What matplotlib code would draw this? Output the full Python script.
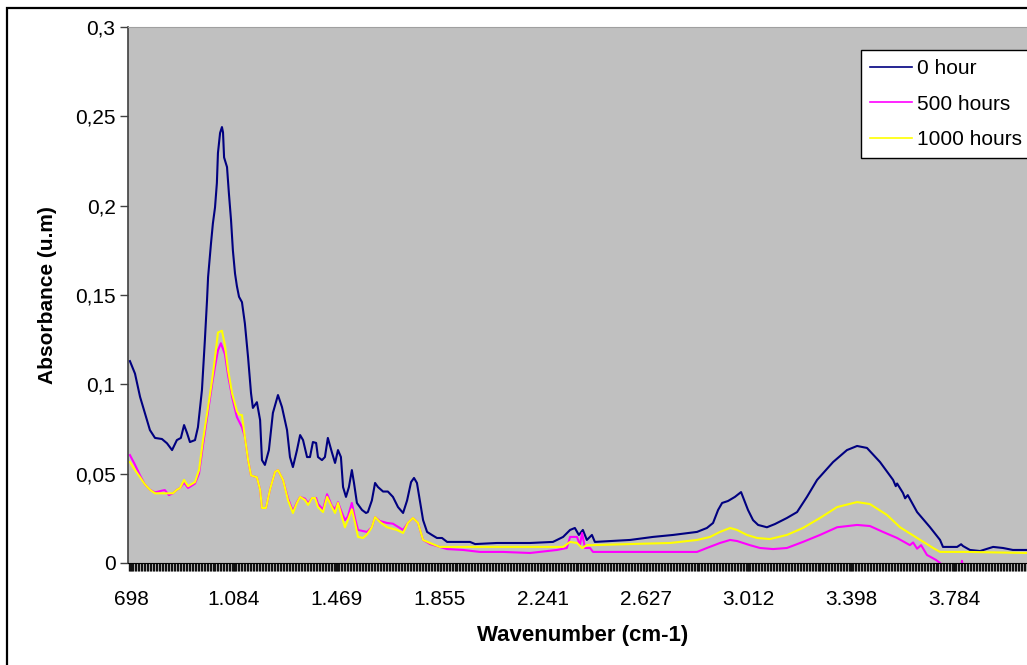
import numpy as np
import matplotlib
matplotlib.use('Agg')
import matplotlib.pyplot as plt
from matplotlib.patches import Rectangle

plt.rcParams['font.family'] = ['Liberation Sans', 'DejaVu Sans']

# 0 hour
w_0h = [694, 713, 732, 750, 769, 788, 814, 833, 852, 870, 885, 897, 908, 919, 938, 949, 964, 975, 983, 987,
        998, 1005, 1013, 1020, 1024, 1032, 1039, 1043, 1047, 1058, 1065, 1073, 1080, 1088, 1095, 1103, 1114,
        1125, 1137, 1148, 1155, 1170, 1182, 1189, 1200, 1215, 1230, 1249, 1264, 1283, 1294, 1305, 1320, 1332,
        1343, 1358, 1369, 1380, 1392, 1399, 1414, 1425, 1436, 1451, 1463, 1474, 1485, 1493, 1504, 1515, 1526,
        1534, 1545, 1564, 1579, 1586, 1601, 1613, 1624, 1643, 1661, 1680, 1699, 1718, 1733, 1748, 1759, 1770,
        1781, 1793, 1808, 1826, 1845, 1864, 1883, 1894, 1969, 1988, 2070, 2168, 2194, 2280, 2318, 2344, 2362,
        2377, 2392, 2407, 2426, 2437, 2569, 2655, 2730, 2820, 2857, 2880, 2899, 2914, 2936, 2962, 2985, 2992,
        3011, 3030, 3049, 3082, 3112, 3157, 3195, 3232, 3270, 3330, 3382, 3420, 3457, 3506, 3555, 3565, 3570,
        3592, 3600, 3610, 3645, 3693, 3731, 3742, 3795, 3810, 3817, 3843, 3881, 3930, 3967, 4004, 4060]
a_0h = [0.113, 0.106, 0.093, 0.084, 0.0744, 0.070, 0.0694, 0.067, 0.0632, 0.0688, 0.070, 0.0772, 0.0728,
        0.0677, 0.0688, 0.076, 0.0968, 0.1248, 0.147, 0.160, 0.179, 0.190, 0.199, 0.2127, 0.2295, 0.2407,
        0.244, 0.241, 0.227, 0.2216, 0.207, 0.192, 0.175, 0.162, 0.155, 0.149, 0.146, 0.134, 0.115, 0.095,
        0.0868, 0.090, 0.080, 0.0576, 0.0549, 0.0632, 0.084, 0.094, 0.0873, 0.0744, 0.0593, 0.0537, 0.063,
        0.0716, 0.0688, 0.0593, 0.0593, 0.0677, 0.0672, 0.0593, 0.0576, 0.0593, 0.070, 0.062, 0.056, 0.0632,
        0.0593, 0.0425, 0.037, 0.0425, 0.052, 0.0448, 0.0336, 0.0297, 0.028, 0.0285, 0.035, 0.0448, 0.0425,
        0.040, 0.040, 0.037, 0.0313, 0.028, 0.035, 0.0453, 0.0476, 0.0448, 0.035, 0.024, 0.0174, 0.0157, 0.014,
        0.014, 0.0118, 0.0118, 0.0118, 0.0106, 0.0112, 0.0112, 0.0112, 0.0118, 0.0146, 0.0185, 0.0196, 0.0157,
        0.0185, 0.0129, 0.0157, 0.0118, 0.0129, 0.0146, 0.0157, 0.0174, 0.0196, 0.0224, 0.0297, 0.0336, 0.0347,
        0.037, 0.0397, 0.037, 0.0297, 0.024, 0.0213, 0.020, 0.0218, 0.0252, 0.0285, 0.037, 0.0465, 0.0565,
        0.0632, 0.0655, 0.0644, 0.0565, 0.0465, 0.0430, 0.0445, 0.0392, 0.0362, 0.0380, 0.0285, 0.0201,
        0.0129, 0.009, 0.009, 0.0105, 0.0095, 0.0073, 0.0067, 0.009, 0.0084, 0.0073, 0.0073]

# 500 hours
w_500h = [694, 713, 732, 750, 769, 788, 814, 825, 840, 855, 870, 882, 897, 912, 938, 953, 968, 987, 1002, 1013,
          1024, 1035, 1050, 1062, 1077, 1095, 1114, 1125, 1137, 1148, 1170, 1182, 1189, 1204, 1219, 1238, 1249,
          1268, 1287, 1305, 1320, 1332, 1350, 1362, 1377, 1392, 1399, 1418, 1433, 1451, 1463, 1474, 1489, 1500,
          1511, 1526, 1538, 1549, 1564, 1583, 1601, 1613, 1631, 1658, 1680, 1718, 1736, 1755, 1774, 1793, 1819,
          1856, 1883, 1943, 2006, 2093, 2194, 2295, 2332, 2344, 2370, 2381, 2389, 2400, 2419, 2430, 2569, 2820,
          2857, 2906, 2944, 2970, 3018, 3056, 3105, 3157, 3217, 3281, 3345, 3420, 3468, 3517, 3570, 3618, 3630,
          3645, 3660, 3682, 3716, 3731, 3745, 3810, 3813, 3818, 4060]
a_500h = [0.0604, 0.055, 0.049, 0.044, 0.041, 0.0395, 0.0405, 0.0408, 0.038, 0.039, 0.041, 0.042, 0.045, 0.042,
          0.0445, 0.050, 0.066, 0.085, 0.100, 0.110, 0.119, 0.123, 0.117, 0.105, 0.093, 0.0817, 0.076, 0.0705,
          0.0576, 0.049, 0.048, 0.041, 0.0308, 0.0308, 0.041, 0.051, 0.052, 0.0465, 0.036, 0.029, 0.034, 0.037,
          0.036, 0.0335, 0.0364, 0.0364, 0.033, 0.030, 0.0385, 0.032, 0.030, 0.034, 0.028, 0.024, 0.026, 0.0336,
          0.025, 0.0185, 0.018, 0.0174, 0.020, 0.0257, 0.0235, 0.0224, 0.022, 0.0185, 0.0224, 0.0252, 0.0224,
          0.0129, 0.0106, 0.009, 0.0078, 0.0073, 0.0062, 0.0062, 0.0056, 0.0073, 0.0084, 0.0146, 0.0146, 0.010,
          0.0168, 0.0084, 0.0084, 0.0062, 0.0062, 0.0062, 0.0084, 0.0112, 0.0129, 0.0123, 0.010, 0.0084, 0.0078,
          0.0084, 0.0118, 0.0157, 0.020, 0.0213, 0.0207, 0.0174, 0.014, 0.010, 0.0115, 0.008, 0.010, 0.0045,
          0.0017, 0.0, -0.003, -0.003, 0.0012, -0.003, -0.003]

# 1000 hours
w_1000h = [694, 713, 732, 750, 769, 788, 814, 833, 855, 870, 882, 897, 912, 938, 953, 968, 987, 1002, 1013, 1024,
           1039, 1050, 1062, 1077, 1095, 1103, 1114, 1125, 1137, 1148, 1170, 1182, 1189, 1204, 1219, 1238, 1249,
           1268, 1287, 1305, 1320, 1332, 1350, 1362, 1377, 1388, 1399, 1418, 1433, 1451, 1463, 1474, 1489, 1500,
           1511, 1526, 1538, 1549, 1568, 1583, 1601, 1613, 1631, 1658, 1695, 1718, 1736, 1755, 1774, 1793, 1819,
           1856, 1943, 2070, 2194, 2318, 2344, 2370, 2389, 2407, 2430, 2569, 2719, 2820, 2869, 2906, 2944, 2970,
           3007, 3045, 3093, 3157, 3217, 3281, 3345, 3420, 3468, 3532, 3581, 3645, 3705, 3731, 3832, 4060]
a_1000h = [0.0565, 0.052, 0.048, 0.044, 0.041, 0.039, 0.039, 0.039, 0.039, 0.041, 0.042, 0.0465, 0.043, 0.0453,
           0.052, 0.0688, 0.0873, 0.1024, 0.115, 0.129, 0.130, 0.122, 0.108, 0.095, 0.085, 0.083, 0.0828, 0.0705,
           0.0576, 0.049, 0.048, 0.041, 0.0308, 0.0308, 0.041, 0.051, 0.052, 0.0465, 0.035, 0.028, 0.0336, 0.037,
           0.0353, 0.0325, 0.0364, 0.0364, 0.0313, 0.0285, 0.037, 0.0313, 0.028, 0.0336, 0.0257, 0.020, 0.024,
           0.030, 0.0224, 0.0146, 0.014, 0.016, 0.020, 0.0257, 0.023, 0.020, 0.0185, 0.0168, 0.0224, 0.0252,
           0.0224, 0.0129, 0.0112, 0.009, 0.009, 0.009, 0.009, 0.009, 0.0118, 0.0112, 0.0084, 0.010, 0.010, 0.0106,
           0.0112, 0.0129, 0.0146, 0.0174, 0.0196, 0.0185, 0.0157, 0.014, 0.0134, 0.0157, 0.0196, 0.0252, 0.0313,
           0.0341, 0.033, 0.0269, 0.020, 0.014, 0.0084, 0.0062, 0.0062, 0.0056]

x_ticks = [698, 1084, 1469, 1855, 2241, 2627, 3012, 3398, 3784]
x_labels = ['698', '1.084', '1.469', '1.855', '2.241', '2.627', '3.012', '3.398', '3.784']
y_ticks = [0, 0.05, 0.1, 0.15, 0.2, 0.25, 0.3]
y_labels = ['0', '0,05', '0,1', '0,15', '0,2', '0,25', '0,3']

W, H = 1027, 665
fig = plt.figure(figsize=(W / 100, H / 100), dpi=100)
fig.patch.set_facecolor('white')

# chart area border (cut on the right and bottom)
fig.patches.append(Rectangle((7 / W, -0.2), 1.3, 1 - 8 / H + 0.2, transform=fig.transFigure,
                             fill=False, edgecolor='black', linewidth=1.6))

ax = fig.add_axes([128 / W, 1 - 563 / H, 910 / W, 536 / H])
ax.set_facecolor('#C0C0C0')

ax.plot(w_0h, a_0h, color='#000080', lw=1.5, label='0 hour')
ax.plot(w_500h, a_500h, color='#FF00FF', lw=1.5, label='500 hours')
ax.plot(w_1000h, a_1000h, color='#FFFF00', lw=1.5, label='1000 hours')

ax.set_xlim(686.8, 686.8 + 910 * 3.7488)
ax.set_ylim(0, 0.3)

ax.set_xticks(x_ticks)
ax.set_xticklabels(x_labels, fontsize=15)
ax.set_xticks(np.arange(690, 4100, 5.6), minor=True)
ax.tick_params(axis='x', which='both', direction='out', length=6, width=1.0, color='#111111', pad=13.5)
ax.set_yticks(y_ticks)
ax.set_yticklabels(y_labels, fontsize=15)
ax.tick_params(axis='y', direction='out', length=6, width=1, color='#404040', pad=3)

ax.spines['right'].set_visible(False)
ax.spines['top'].set_color('#a0a0a0')
ax.spines['left'].set_color('#404040')
ax.spines['left'].set_linewidth(1.2)
ax.spines['bottom'].set_color('black')

ax.set_xlabel('Wavenumber (cm-1)', fontsize=16, fontweight='bold')
ax.xaxis.set_label_coords(0.5, -0.1155)
ax.set_ylabel('Absorbance (u.m)', fontsize=15, fontweight='bold')
ax.yaxis.set_label_coords(-0.078, 0.5)

leg = ax.legend(loc='upper left', bbox_to_anchor=(861 / W, 1 - 50 / H), bbox_transform=fig.transFigure,
                fontsize=15, frameon=True, fancybox=False, framealpha=1, edgecolor='black',
                handlelength=2.0, handletextpad=0.25, labelspacing=0.78, borderpad=0.45, borderaxespad=0)
leg.get_frame().set_linewidth(1.0)
for line in leg.get_lines():
    line.set_linewidth(1.2)

fig.savefig('out.png', dpi=100, facecolor='white')
